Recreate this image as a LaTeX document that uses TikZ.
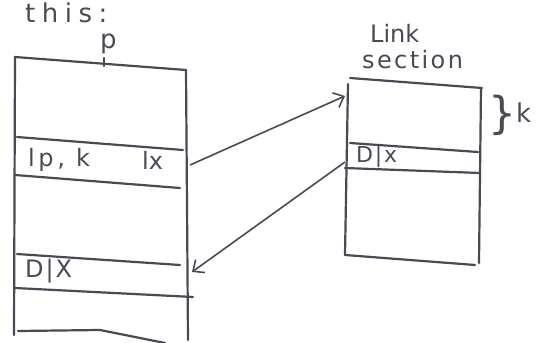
\documentclass[tikz,border=0pt]{standalone}
\usetikzlibrary{arrows.meta}
\usepackage{fontspec}
\setmainfont{DejaVu Sans}
\definecolor{ink}{HTML}{4A4A55}
\begin{document}
\begin{tikzpicture}[x=1pt,y=-1pt,
  pen/.style={draw=ink,line width=2.2pt,line cap=round,line join=round},
  lbl/.style={text=ink,font=\fontsize{24}{26}\selectfont,inner sep=0pt},
  arr/.style={draw=ink,line width=1.6pt,-{Straight Barb[length=9pt,width=16pt,line width=1.6pt]}}]
\useasboundingbox (0,0) rectangle (536,343);
% left box
\draw[pen] (15,57) -- (186,70);
\draw[pen] (15,57) -- (14,335);
\draw[pen] (186,70) -- (188,340);
\draw[pen] (17,137) -- (183,150);
\draw[pen] (15,175) -- (180,188);
\draw[pen] (17,254) -- (180,265);
\draw[pen] (15,288) -- (193,297);
\draw[pen] (18,331) -- (100,330) -- (165,343);
\draw[pen] (104,58) -- (104,66);
% right box
\draw[pen] (350,78) -- (482,88);
\draw[pen] (348,84) -- (345,255);
\draw[pen] (481,88) -- (479,263);
\draw[pen] (345,255) -- (475,265);
\draw[pen] (350,143) -- (478,152);
\draw[pen] (345,168) -- (480,173);
% texts
\node[lbl,anchor=west,font=\fontsize{26}{28}\selectfont\addfontfeature{LetterSpace=25}] (this) at (25,13) {this:};
\node[lbl,anchor=west,font=\fontsize{26}{28}\selectfont] (p) at (100,44) {p};
\node[lbl,anchor=west,font=\fontsize{24}{26}\selectfont\addfontfeature{LetterSpace=15}] (r1a) at (28,160) {lp, k};
\node[lbl,anchor=west] (r1b) at (142,160) {lx};
\node[lbl,anchor=west,font=\fontsize{24}{26}\selectfont\addfontfeature{LetterSpace=8}] (r2) at (25,271) {D|X};
\node[lbl,anchor=west,font=\fontsize{22}{24}\selectfont\addfontfeature{LetterSpace=8}] (r3) at (356,157) {D|x};
\node[lbl,anchor=west] (link) at (370,33) {Link};
\node[lbl,anchor=west,font=\fontsize{24}{26}\selectfont\addfontfeature{LetterSpace=10}] (sect) at (362,60) {section};
\node[lbl,anchor=west] (brace) at (488,115) {\fontsize{44}{44}\selectfont\}};
\node[lbl,anchor=west,font=\fontsize{26}{28}\selectfont] (k) at (516,113) {k};
% connectors
\coordinate (a1) at (190,165);
\coordinate (a2) at (345,96);
\coordinate (b1) at (345,162);
\coordinate (b2) at (192,272);
\draw[arr] (a1) -- (a2);
\draw[arr] (b1) -- (b2);
\end{tikzpicture}
\end{document}
